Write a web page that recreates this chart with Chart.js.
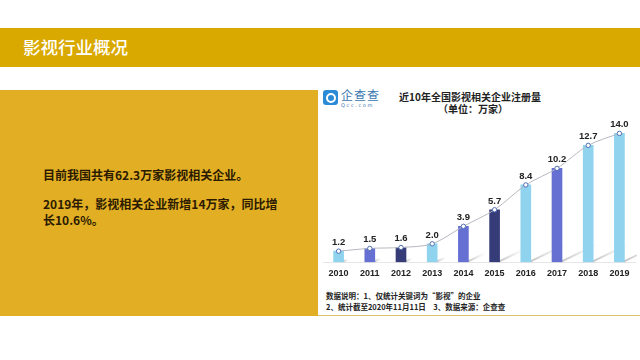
<!DOCTYPE html>
<html><head><meta charset="utf-8">
<script src="https://cdn.jsdelivr.net/npm/chart.js@4/dist/chart.umd.min.js"></script>
<style>
html,body{margin:0;padding:0;width:640px;height:360px;overflow:hidden;background:#fff;font-family:"Noto Sans CJK SC","Noto Sans",sans-serif;}
.abs{position:absolute;}
#banner{left:0;top:28px;width:640px;height:39px;background:#DAA900;}
#btitle{left:23px;top:34px;color:#fff;font-size:17.5px;font-weight:500;line-height:26px;white-space:nowrap;}
#gold{left:0;top:90px;width:318px;height:226px;background:#E1AE24;}
#panel{left:318px;top:90px;width:322px;height:225px;background:#fff;border-bottom:1px solid #D9C46A;}
.lt{color:#2b1a00;font-weight:700;font-size:12px;white-space:nowrap;left:43px;}
#logo{left:323px;top:90px;width:15px;height:15px;background:#2C8BD6;border-radius:3px;}
#logo div{position:absolute;left:3px;top:3px;width:6px;height:6px;border:2px solid #fff;border-radius:50%;}
#qcc{left:341px;top:88px;font-size:12px;color:#3B76B0;line-height:14px;letter-spacing:1px;}
#qcom{left:341px;top:102px;font-size:5px;color:#3B76B0;line-height:6px;letter-spacing:1.6px;font-family:"DejaVu Sans",sans-serif;}
.ct{font-weight:700;font-size:10px;color:#222;white-space:nowrap;transform:translateX(-50%);line-height:12px;}
.fn{left:326px;font-size:7.5px;font-weight:700;color:#222;white-space:nowrap;line-height:10px;}
#cwrap{left:318px;top:110px;width:322px;height:175px;}
</style></head>
<body>
<div class="abs" id="banner"></div>
<div class="abs" id="btitle">影视行业概况</div>
<div class="abs" id="gold"></div>
<div class="abs" id="panel"></div>
<div class="abs lt" style="top:166px;">目前我国共有62.3万家影视相关企业。</div>
<div class="abs lt" style="top:195px;">2019年，影视相关企业新增14万家，同比增</div>
<div class="abs lt" style="top:211px;">长10.6%。</div>
<div class="abs" id="logo"><div></div></div>
<div class="abs" id="qcc">企查查</div>
<div class="abs" id="qcom">Qcc.com</div>
<div class="abs ct" style="left:470px;top:91px;">近10年全国影视相关企业注册量</div>
<div class="abs ct" style="left:473px;top:103px;">（单位：万家）</div>
<div class="abs fn" style="top:291px;">数据说明：1、仅统计关键词为“影视”的企业</div>
<div class="abs fn" style="top:302px;">2、统计截至2020年11月11日　3、数据来源：企查查</div>
<div class="abs" id="cwrap"><canvas id="c" width="322" height="175"></canvas></div>
<script>
const years = ["2010","2011","2012","2013","2014","2015","2016","2017","2018","2019"];
const registrations = [1.2, 1.5, 1.6, 2.0, 3.9, 5.7, 8.4, 10.2, 12.7, 14.0];
const barColors = ["#8FD3EF","#6670D2","#363C78","#8FD3EF","#6670D2","#363C78","#8FD3EF","#6670D2","#8FD3EF","#8FD3EF"];

const shadowPlugin = {
  id:'shadows',
  beforeDatasetsDraw(chart){
    const ctx = chart.ctx, meta = chart.getDatasetMeta(1), y0 = chart.scales.y.getPixelForValue(0);
    ctx.save();
    ctx.beginPath();
    ctx.rect(chart.chartArea.left, chart.chartArea.top, chart.chartArea.right-chart.chartArea.left+2, y0-chart.chartArea.top);
    ctx.clip();
    meta.data.forEach((bar,i)=>{
      const h = y0 - bar.y;
      const xr = bar.x + 5;
      const len = Math.min(h*0.55, 40);
      const dx = len*0.9, dy = len*0.45;
      const g = ctx.createLinearGradient(xr, y0, xr+dx, y0-dy);
      g.addColorStop(0,'rgba(140,140,140,0.55)');
      g.addColorStop(1,'rgba(200,200,200,0)');
      ctx.fillStyle = g;
      ctx.beginPath();
      ctx.moveTo(xr, y0);
      ctx.lineTo(xr-4, y0);
      ctx.lineTo(xr-4+dx, y0-dy);
      ctx.lineTo(xr+dx+2, y0-dy);
      ctx.closePath();
      ctx.fill();
    });
    ctx.restore();
  },
  afterDatasetsDraw(chart){
    const ctx = chart.ctx, meta = chart.getDatasetMeta(0);
    ctx.save();
    ctx.font = 'bold 9.5px "Liberation Sans", sans-serif';
    ctx.fillStyle = '#222';
    ctx.textAlign = 'center';
    ctx.textBaseline = 'bottom';
    meta.data.forEach((p,i)=>{
      ctx.fillText(registrations[i].toFixed(1), p.x, p.y-4);
    });
    ctx.restore();
  }
};

new Chart(document.getElementById('c'), {
  data:{
    labels: years,
    datasets:[
      {type:'line', data: registrations, borderColor:'#B5B8C0', borderWidth:1, tension:0.3,
       pointRadius:2.2, pointBackgroundColor:'#fff', pointBorderColor:'#4E6FB5', pointBorderWidth:1, order:0},
      {type:'bar', data: registrations, backgroundColor: barColors, barThickness:10, order:1}
    ]
  },
  options:{
    responsive:false, animation:false,
    layout:{padding:{left:1,right:1,top:0,bottom:0}},
    plugins:{legend:{display:false}, tooltip:{enabled:false}},
    scales:{
      x:{grid:{display:false, drawTicks:false}, border:{color:'#E6E6E6'},
         ticks:{color:'#222', font:{family:'"Liberation Sans", sans-serif', size:9, weight:'bold'}, padding:6}},
      y:{display:false, min:0, max:16}
    }
  },
  plugins:[shadowPlugin]
});
</script>
</body></html>
